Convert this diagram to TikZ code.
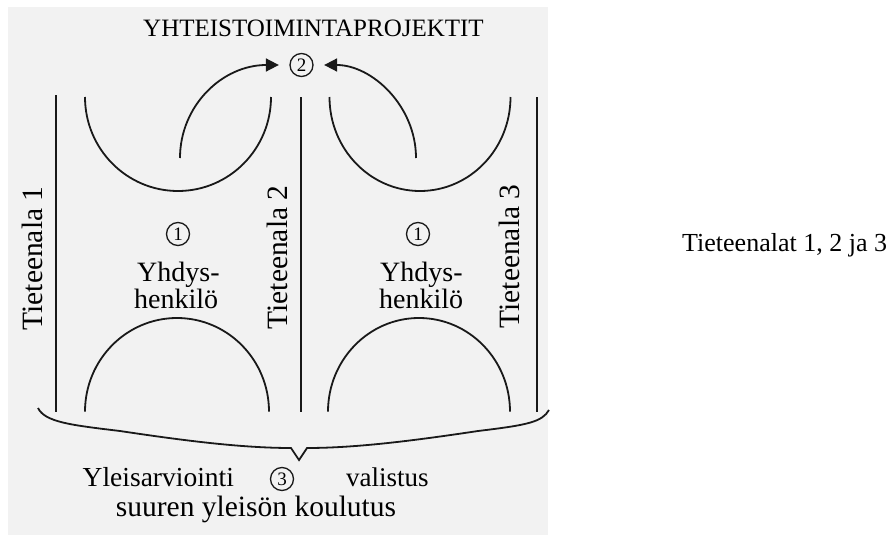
\documentclass[tikz,border=0pt]{standalone}
\usepackage{fontspec}
\setmainfont{Liberation Serif}
\usetikzlibrary{arrows.meta}
\begin{document}
\begin{tikzpicture}[x=1pt,y=1pt,
  ln/.style={line width=1.8pt, draw=black!90},
  arr/.style={ln, -{Triangle[length=13pt,width=13pt]}, shorten >=10.5pt},
  num/.style={circle, draw=black!90, line width=1.3pt, minimum size=23pt, inner sep=0pt, font=\fontsize{19}{19}\selectfont},
  lab/.style={inner sep=0pt, font=\fontsize{28}{30}\selectfont},
  sidelab/.style={lab, rotate=90, anchor=base, font=\fontsize{29.5}{31}\selectfont},
  ttl/.style={inner sep=0pt, font=\fontsize{25}{27}\selectfont, anchor=base}]
\useasboundingbox (0,0) rectangle (891,-535);
\fill[black!5] (8,-7) rectangle (548,-535);

% title and circled 2
\node[ttl] (title) at (313.5,-36.7) {YHTEISTOIMINTAPROJEKTIT};
\node[num] (c2) at (301.5,-65) {2};

% vertical lines
\draw[ln] (55.6,-95) -- (55.6,-411.7);
\draw[ln] (301,-97) -- (301,-411.7);
\draw[ln] (537,-97) -- (537,-411.7);

% upper U arcs
\draw[ln] (85,-97) arc[start angle=180, end angle=360, x radius=93, y radius=94];
\draw[ln] (329.5,-97) arc[start angle=180, end angle=360, x radius=90.5, y radius=94];

% lower arcs
\draw[ln] (269,-411.7) arc[start angle=0, end angle=180, x radius=92, y radius=93.7];
\draw[ln] (510,-411.7) arc[start angle=0, end angle=180, x radius=91, y radius=93.7];

% arrows to circle 2
\coordinate (s1) at (180,-158);
\coordinate (s2) at (416,-158);
\draw[arr] (s1) .. controls (180,-106) and (222,-65) .. (c2.west);
\draw[arr] (s2) .. controls (416,-106) and (372,-65) .. (c2.east);

% side labels
\node[sidelab] (t1) at (42,-258.5) {Tieteenala 1};
\node[sidelab] (t2) at (287,-257.5) {Tieteenala 2};
\node[sidelab] (t3) at (519,-256.5) {Tieteenala 3};

% contact persons
\node[num] (c1a) at (178,-234) {1};
\node[num] (c1b) at (418,-234) {1};
\node[lab, anchor=base west] (ya) at (137,-281.7) {Yhdys-};
\node[lab, anchor=base west] (ha) at (134,-308) {henkilö};
\node[lab, anchor=base west] (yb) at (380,-281.7) {Yhdys-};
\node[lab, anchor=base west] (hb) at (379,-308) {henkilö};

% brace
\draw[ln, line join=miter]
  (38,-408) .. controls (45,-422) and (70,-425) .. (120,-431)
  .. controls (180,-440) and (240,-448) .. (291,-448)
  -- (299,-460) -- (307,-448)
  .. controls (358,-448) and (418,-440) .. (478,-431)
  .. controls (528,-425) and (542,-422) .. (549,-410);

% bottom labels
\node[lab, anchor=base west, font=\fontsize{27.5}{29}\selectfont] (yl) at (82.5,-486.7) {Yleisarviointi};
\node[num] (c3) at (282,-479) {3};
\node[lab, anchor=base west, font=\fontsize{27}{29}\selectfont] (va) at (346,-486.7) {valistus};
\node[lab, anchor=base, font=\fontsize{29.5}{31}\selectfont] (su) at (256,-516.7) {suuren yleisön koulutus};

% right caption
\node[inner sep=0pt, anchor=base west, font=\fontsize{26}{28}\selectfont] (cap) at (682,-251.7) {Tieteenalat 1, 2 ja 3};
\end{tikzpicture}
\end{document}
